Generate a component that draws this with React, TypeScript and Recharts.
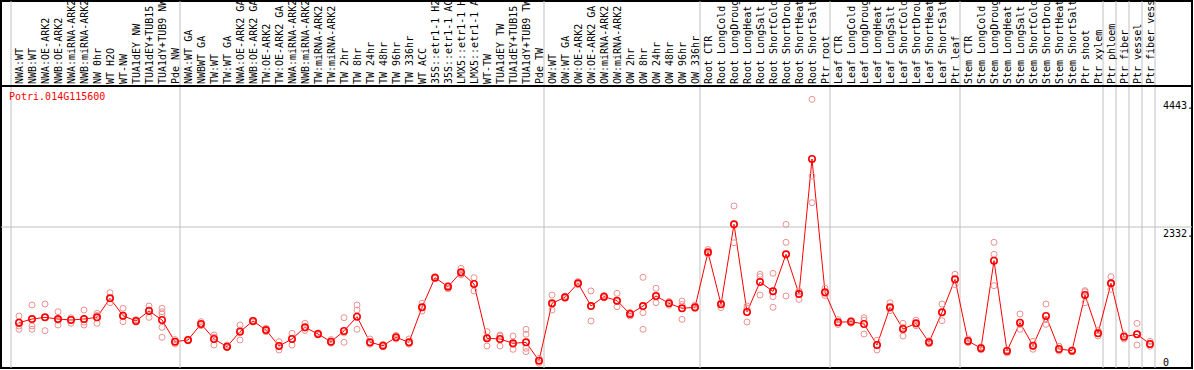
import React from 'react';
import { ComposedChart, Line, XAxis, YAxis, ReferenceLine, ReferenceArea } from 'recharts';

const title = 'Potri.014G115600';

const labels = [
  'NWA:WT', 'NWB:WT', 'NWA:OE-ARK2', 'NWB:OE-ARK2', 'NWA:miRNA-ARK2', 'NWB:miRNA-ARK2', 'NW 0hr', 'WT H2O',
  'WT-NW', 'TUA1dEY NW', 'TUA1dEY+TUB15', 'TUA1dY+TUB9 NW', 'Pde NW',
  'NWA:WT GA', 'NWBWT GA', 'TW:WT', 'TW:WT GA', 'NWA:OE-ARK2 GA', 'NWB:OE-ARK2 GA', 'TW:OE-ARK2', 'TW:OE-ARK2 GA',
  'NWA:miRNA-ARK2', 'NWB:miRNA-ARK2', 'TW:miRNA-ARK2', 'TW:miRNA-ARK2', 'TW 2hr', 'TW 8hr', 'TW 24hr', 'TW 48hr',
  'TW 96hr', 'TW 336hr', 'WT ACC', '35S::etr1-1 H2', '35S::etr1-1 AC', 'LMX5::etr1-1 H', 'LMX5::etr1-1 A',
  'WT-TW', 'TUA1dEY TW', 'TUA1dEY+TUB15', 'TUA1dY+TUB9 TW', 'Pde TW',
  'OW:WT', 'OW:WT GA', 'OW:OE-ARK2', 'OW:OE-ARK2 GA', 'OW:miRNA-ARK2', 'OW:miRNA-ARK2', 'OW 2hr', 'OW 8hr',
  'OW 24hr', 'OW 48hr', 'OW 96hr', 'OW 336hr',
  'Root CTR', 'Root LongCold', 'Root LongDroug', 'Root LongHeat', 'Root LongSalt', 'Root ShortCold',
  'Root ShortDrou', 'Root ShortHeat', 'Root ShortSalt', 'Ptr root',
  'Leaf CTR', 'Leaf LongCold', 'Leaf LongDroug', 'Leaf LongHeat', 'Leaf LongSalt', 'Leaf ShortCold',
  'Leaf ShortDrou', 'Leaf ShortHeat', 'Leaf ShortSalt', 'Ptr leaf',
  'Stem CTR', 'Stem LongCold', 'Stem LongDroug', 'Stem LongHeat', 'Stem LongSalt', 'Stem ShortCold',
  'Stem ShortDrou', 'Stem ShortHeat', 'Stem ShortSalt', 'Ptr shoot', 'Ptr xylem',
  'Ptr phloem', 'Ptr fiber', 'Ptr vessel', 'Ptr fiber vess',
];

const means = [
  749, 810, 838, 810, 794, 810, 838, 1153, 865, 777, 943, 794, 435,
  463, 728, 480, 353, 601, 777, 628, 364, 480, 673, 562, 435, 612, 849, 425, 369, 508, 425,
  1004, 1494, 1345, 1583, 1389, 491, 480, 408, 425, 121,
  1070, 1169, 1401, 1025, 1180, 1114, 893, 1025, 1191, 1070, 987, 1004,
  1913, 1053, 2377, 926, 1422, 1268, 1880, 1224, 3457, 1252,
  756, 766, 728, 380, 1004, 645, 739, 425, 921, 1467,
  447, 326, 1775, 281, 750, 369, 860, 314, 287, 1207, 574,
  1401, 518, 557, 397,
];

const rep1 = [
  860, 1042, 1058, 931, 794, 959, 904, 1246, 987, 800, 1025, 987, 470,
  463, 766, 546, 380, 711, 790, 660, 435, 574, 740, 580, 470, 832, 1042, 480, 390, 540, 480,
  1070, 1510, 1310, 1649, 1494, 601, 546, 529, 640, 160,
  1207, 1169, 1430, 1274, 1200, 1235, 920, 1500, 1318, 1100, 1108, 1040,
  1960, 1000, 2680, 1025, 1550, 1566, 2377, 1136, 4443, 1320,
  800, 790, 832, 460, 1080, 739, 790, 450, 1058, 1550,
  480, 350, 2079, 300, 893, 440, 1058, 360, 300, 1279, 620,
  1510, 550, 739, 440,
];

const rep2 = [
  695, 695, 838, 711, 740, 711, 739, 1153, 766, 760, 838, 931, 400,
  450, 700, 380, 340, 463, 760, 600, 298, 380, 620, 545, 410, 425, 959, 400, 350, 480, 400,
  943, 1480, 1360, 1560, 1274, 364, 364, 309, 557, 80,
  959, 1150, 1380, 777, 1160, 1014, 860, 915, 1080, 1040, 805, 980,
  1880, 1080, 2072, 761, 1510, 1180, 2079, 1260, 3176, 1200,
  720, 740, 562, 298, 948, 529, 700, 400, 783, 1380,
  420, 300, 1880, 250, 640, 310, 722, 280, 270, 1080, 530,
  1301, 480, 380, 360,
];

const rep3 = [
  640, 640, 617, 790, 830, 760, 870, 1080, 850, 770, 960, 893, 435,
  475, 720, 510, 340, 630, 780, 620, 360, 485, 660, 560, 425, 580, 640, 395, 365, 505, 395,
  1000, 1494, 1365, 1540, 1400, 510, 530, 390, 326, 121,
  1050, 1190, 1395, 1025, 1180, 1100, 900, 640, 1180, 1070, 1050, 990,
  1900, 1080, 2380, 990, 1207, 1004, 1191, 1276, 2734, 1236,
  750, 770, 790, 380, 990, 670, 730, 425, 920, 1470,
  440, 330, 1362, 290, 720, 360, 800, 300, 290, 1260, 570,
  1390, 520, 557, 390,
];

const extraRepIndex = [11, 11, 39];
const extraRepValue = [673, 508, 270];

const groupEnds = [-1, 12, 40, 52, 62, 72, 83, 84, 85, 86, 87];
const yTicks = [0, 2332, 4443];
const yTickLabels = ['0', '2332.', '4443.'];
const frameTop = 4664;
const yMax = 6070;
const xDomain = [-18 / 13, 1173 / 13];

const FONT = "'DejaVu Sans Mono', monospace";

const data = labels.map((label, i) => {
  const row: any = { x: i, label, mean: means[i], r1: rep1[i], r2: rep2[i], r3: rep3[i], r4: null, r5: null };
  return row;
});
extraRepIndex.forEach((idx, k) => {
  const row = data[idx];
  if (row.r4 == null) row.r4 = extraRepValue[k];
  else row.r5 = extraRepValue[k];
});

const XTick = (props: any) => {
  const { x, payload } = props;
  const px = x + 3.5;
  const py = 84;
  return (
    <text x={px} y={py} transform={`rotate(-90 ${px} ${py})`} fontSize={10} fontFamily={FONT} fill="#000" textAnchor="start">
      {labels[payload.value]}
    </text>
  );
};

const YTick = (props: any) => {
  const { x, y, payload } = props;
  const idx = yTicks.indexOf(payload.value);
  const dy = payload.value === 0 ? -2 : 10;
  return (
    <text x={x - 29} y={y + dy} fontSize={10} fontFamily={FONT} fill="#000" textAnchor="start">
      {yTickLabels[idx]}
    </text>
  );
};

const repDot = { r: 3, stroke: '#f09090', strokeWidth: 1, fill: 'none' };
const meanDot = { r: 3.2, stroke: '#ff0000', strokeWidth: 1.6, fill: 'none' };

export default function App() {
  return (
    <div style={{ position: 'absolute', left: 0, top: 0, width: 1194, height: 370, background: '#fff' }}>
      <ComposedChart width={1194} height={370} data={data} margin={{ top: 0, left: 1, right: 1, bottom: 2 }}>
        <XAxis
          dataKey="x"
          type="number"
          domain={xDomain}
          allowDataOverflow
          ticks={labels.map((_, i) => i)}
          interval={0}
          orientation="top"
          height={1}
          axisLine={false}
          tickLine={false}
          tickSize={0}
          tickMargin={0}
          tick={(p: any) => <XTick {...p} />}
        />
        <YAxis
          type="number"
          domain={[0, yMax]}
          allowDataOverflow
          ticks={yTicks}
          interval={0}
          orientation="right"
          width={1}
          axisLine={false}
          tickLine={false}
          tickSize={0}
          tickMargin={0}
          tick={(p: any) => <YTick {...p} />}
        />
        {groupEnds.map((g) => (
          <ReferenceLine key={'g' + g} x={g + 0.385} stroke="#c0c0c0" strokeWidth={1} />
        ))}
        <ReferenceLine y={2332} stroke="#c0c0c0" strokeWidth={1} />
        <ReferenceLine y={frameTop} stroke="#000" strokeWidth={2} />
        <ReferenceArea x1={xDomain[0]} x2={xDomain[1]} y1={0} y2={yMax} stroke="#000" strokeWidth={2} fill="none" fillOpacity={0} />
        {['r1', 'r2', 'r3', 'r4', 'r5'].map((k) => (
          <Line key={k} dataKey={k} stroke="none" dot={repDot} activeDot={false} isAnimationActive={false} legendType="none" />
        ))}
        <Line dataKey="mean" stroke="#ff0000" strokeWidth={1} dot={meanDot} activeDot={false} isAnimationActive={false} legendType="none" />
      </ComposedChart>
      <div
        style={{
          position: 'absolute',
          left: 9,
          top: 91,
          fontSize: 10,
          lineHeight: '12px',
          fontFamily: FONT,
          color: '#ff0000',
          whiteSpace: 'nowrap',
        }}
      >
        {title}
      </div>
    </div>
  );
}
